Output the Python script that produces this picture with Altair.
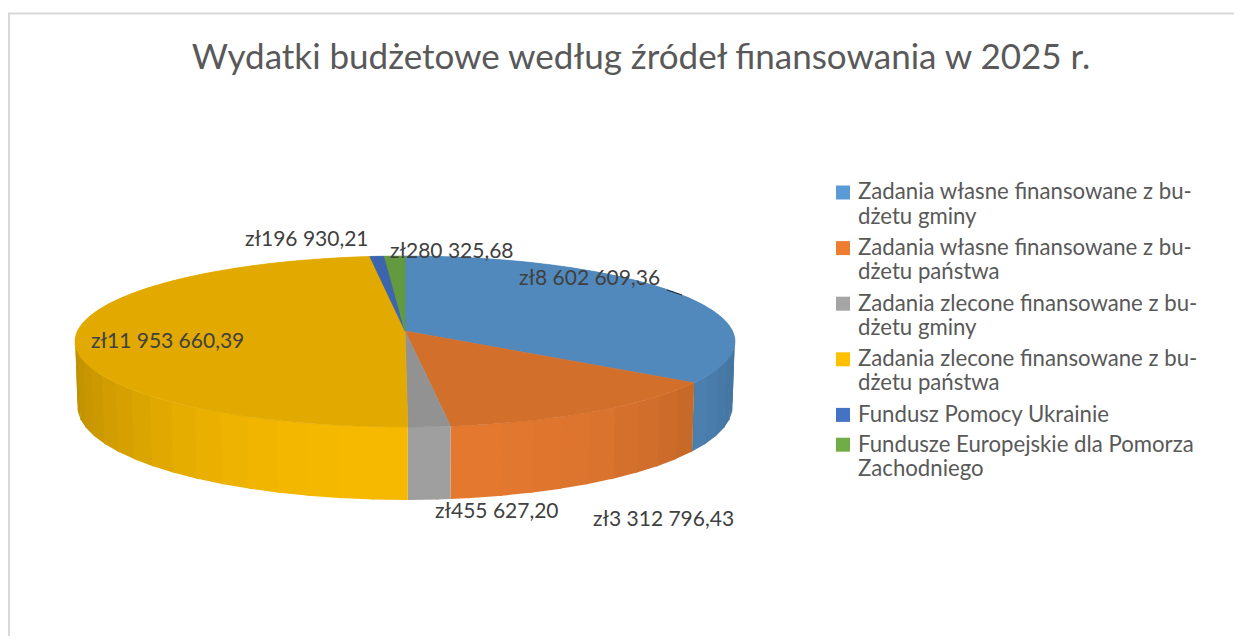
import math
import altair as alt
import pandas as pd

# ---- data ----
title_text = "Wydatki budżetowe według źródeł finansowania w 2025 r."
categories = [
    "Zadania własne finansowane z budżetu gminy",
    "Zadania własne finansowane z budżetu państwa",
    "Zadania zlecone finansowane z budżetu gminy",
    "Zadania zlecone finansowane z budżetu państwa",
    "Fundusz Pomocy Ukrainie",
    "Fundusze Europejskie dla Pomorza Zachodniego",
]
legend_lines = [
    ["Zadania własne finansowane z bu-", "dżetu gminy"],
    ["Zadania własne finansowane z bu-", "dżetu państwa"],
    ["Zadania zlecone finansowane z bu-", "dżetu gminy"],
    ["Zadania zlecone finansowane z bu-", "dżetu państwa"],
    ["Fundusz Pomocy Ukrainie"],
    ["Fundusze Europejskie dla Pomorza", "Zachodniego"],
]
values = [8602609.36, 3312796.43, 455627.20, 11953660.39, 196930.21, 280325.68]
palette = ["#5B9BD5", "#ED7D31", "#A5A5A5", "#FFC000", "#4472C4", "#70AD47"]

# ---- layout ----
W, H = 1226, 628
OX, OY = 8, 8          # page margin
CX, CY = 405, 331      # pie centre on the picture
K = 0.1228             # perspective strength
A = 84.2               # vertical radius factor
B = 327.5              # horizontal radius factor
DEPTH = 64             # wall height
BOTTOM = 0.993
TOP_SHADE = 0.885
BAND = 5.0
OVERLAP = 0.25


def project(angle, radius=1.0, drop=0.0):
    a = math.radians(angle)
    u, v = radius * math.sin(a), -radius * math.cos(a)
    w = 1 - K * v
    scale = BOTTOM if drop else 1.0
    x = CX + scale * B * u / w
    y = CY + A * v / w + drop * DEPTH / w
    return [round(x - OX, 2), round(y - OY, 2)]


def shade(colour, f):
    r, g, b = (int(colour[i:i + 2], 16) for i in (1, 3, 5))
    return "#%02x%02x%02x" % (round(r * f), round(g * f), round(b * f))


def wall_factor(angle):
    u = abs(math.sin(math.radians(angle)))
    return 0.965 - 0.225 * u ** 2.5


total = sum(values)
edges = [0.0]
for val in values:
    edges.append(edges[-1] + 360 * val / total)

walls, tops = [], []
for i, colour in enumerate(palette):
    a0, a1 = edges[i], edges[i + 1]
    # side wall, one flat face per band
    cuts = [a0] + [BAND * n for n in range(int(a0 // BAND) + 1, int(a1 // BAND) + 1) if a0 < BAND * n < a1] + [a1]
    for s, e in zip(cuts[:-1], cuts[1:]):
        mid = (s + e) / 2
        s2, e2 = max(a0, s - OVERLAP), min(a1, e + OVERLAP)
        ring = [project(s2), project(e2), project(e2, drop=1), project(s2, drop=1), project(s2)]
        walls.append((-math.cos(math.radians(mid)), {
            "type": "Feature",
            "properties": {"color": shade(colour, wall_factor(mid)), "name": categories[i]},
            "geometry": {"type": "Polygon", "coordinates": [ring]},
        }))
    # top face
    n = max(2, int((a1 - a0)) + 1)
    arc = [project(a0 + (a1 - a0) * t / n) for t in range(n + 1)]
    ring = [project(0, radius=0)] + arc + [project(0, radius=0)]
    tops.append({
        "type": "Feature",
        "properties": {"color": shade(colour, TOP_SHADE), "name": categories[i]},
        "geometry": {"type": "Polygon", "coordinates": [ring]},
    })


def geo_layer(feats, stroke_width):
    base = alt.Chart(
        alt.InlineData(
            values={"type": "FeatureCollection", "features": feats},
            format=alt.DataFormat(property="features", type="json"),
        )
    )
    enc = dict(
        fill=alt.Fill("properties.color:N", scale=None, legend=None),
        tooltip=alt.Tooltip("properties.name:N"),
    )
    if stroke_width:
        mark = base.mark_geoshape(strokeWidth=stroke_width)
        enc["stroke"] = alt.Stroke("properties.color:N", scale=None, legend=None)
    else:
        mark = base.mark_geoshape(strokeWidth=0, stroke="transparent")
    return mark.encode(**enc).project(type="identity", scale=1, translate=[0, 0])


wall_layer = geo_layer([f for _, f in sorted(walls, key=lambda t: t[0])], 0)
top_layer = geo_layer(tops, 0.6)

x_pix = alt.Scale(domain=[0, W], range=[0, W])
y_pix = alt.Scale(domain=[0, H], range=[0, H])


def money(v):
    whole, dec = f"{v:,.2f}".split(".")
    return "zł" + whole.replace(",", " ") + "," + dec


# data labels, left edge and vertical middle on the picture
label_anchor = [(519, 279), (593, 520), (435, 512), (91, 342), (245, 240), (390, 252)]
labels = pd.DataFrame({
    "text": [money(v) for v in values],
    "x": [a[0] - OX for a in label_anchor],
    "y": [a[1] - OY for a in label_anchor],
})
data_labels = alt.Chart(labels).mark_text(
    align="left", baseline="middle", font="Lato", fontSize=21, color="#404040"
).encode(
    x=alt.X("x:Q", scale=x_pix, axis=None),
    y=alt.Y("y:Q", scale=y_pix, axis=None),
    text="text:N",
)

# legend: one multi-line text per entry
LEG_X, LEG_Y, LINE, GAP = 858, 192.5, 24.3, 7
rows, squares = [], []
y = LEG_Y
for i, lines in enumerate(legend_lines):
    squares.append({"x": 843 - OX, "y": y - OY, "c": palette[i]})
    rows.append({"x": LEG_X - OX, "y": y - OY + 6.8, "text": "\n".join(lines)})
    y += LINE * len(lines) + (GAP if len(lines) > 1 else GAP - 1.5)

legend_text = alt.Chart(pd.DataFrame(rows)).mark_text(
    align="left", baseline="alphabetic", font="Lato", fontSize=22.2, color="#595959",
    lineBreak="\n", lineHeight=LINE,
).encode(
    x=alt.X("x:Q", scale=x_pix, axis=None),
    y=alt.Y("y:Q", scale=y_pix, axis=None),
    text="text:N",
)
legend_marks = alt.Chart(pd.DataFrame(squares)).mark_square(size=196, opacity=1).encode(
    x=alt.X("x:Q", scale=x_pix, axis=None),
    y=alt.Y("y:Q", scale=y_pix, axis=None),
    fill=alt.Fill("c:N", scale=None, legend=None),
)

# frame and the short leader line
frame_top = alt.Chart(pd.DataFrame({"a": [0]})).mark_rule(color="#D9D9D9", strokeWidth=2).encode(
    x=alt.value(0), x2=alt.value(W), y=alt.value(5.5)
)
frame_left = alt.Chart(pd.DataFrame({"a": [0]})).mark_rule(color="#D9D9D9", strokeWidth=2).encode(
    x=alt.value(1), y=alt.value(5), y2=alt.value(H)
)
leader = alt.Chart(pd.DataFrame({"a": [0]})).mark_rule(color="#262626", strokeWidth=1).encode(
    x=alt.value(667 - OX), x2=alt.value(682 - OX), y=alt.value(290 - OY), y2=alt.value(295 - OY)
)

chart = alt.layer(
    frame_top, frame_left, wall_layer, top_layer, leader, data_labels, legend_marks, legend_text
).properties(
    width=W,
    height=H,
    padding=0,
    autosize=alt.AutoSizeParams(type="none"),
    title=alt.TitleParams(
        text=title_text, font="Lato", fontSize=35, fontWeight="normal", color="#595959",
        anchor="middle", frame="group", baseline="middle", dy=85, dx=20, offset=0,
    ),
).configure_view(stroke=None).resolve_scale(x="shared", y="shared")

chart.save("out.html", embed_options={"renderer": "svg", "actions": False})
